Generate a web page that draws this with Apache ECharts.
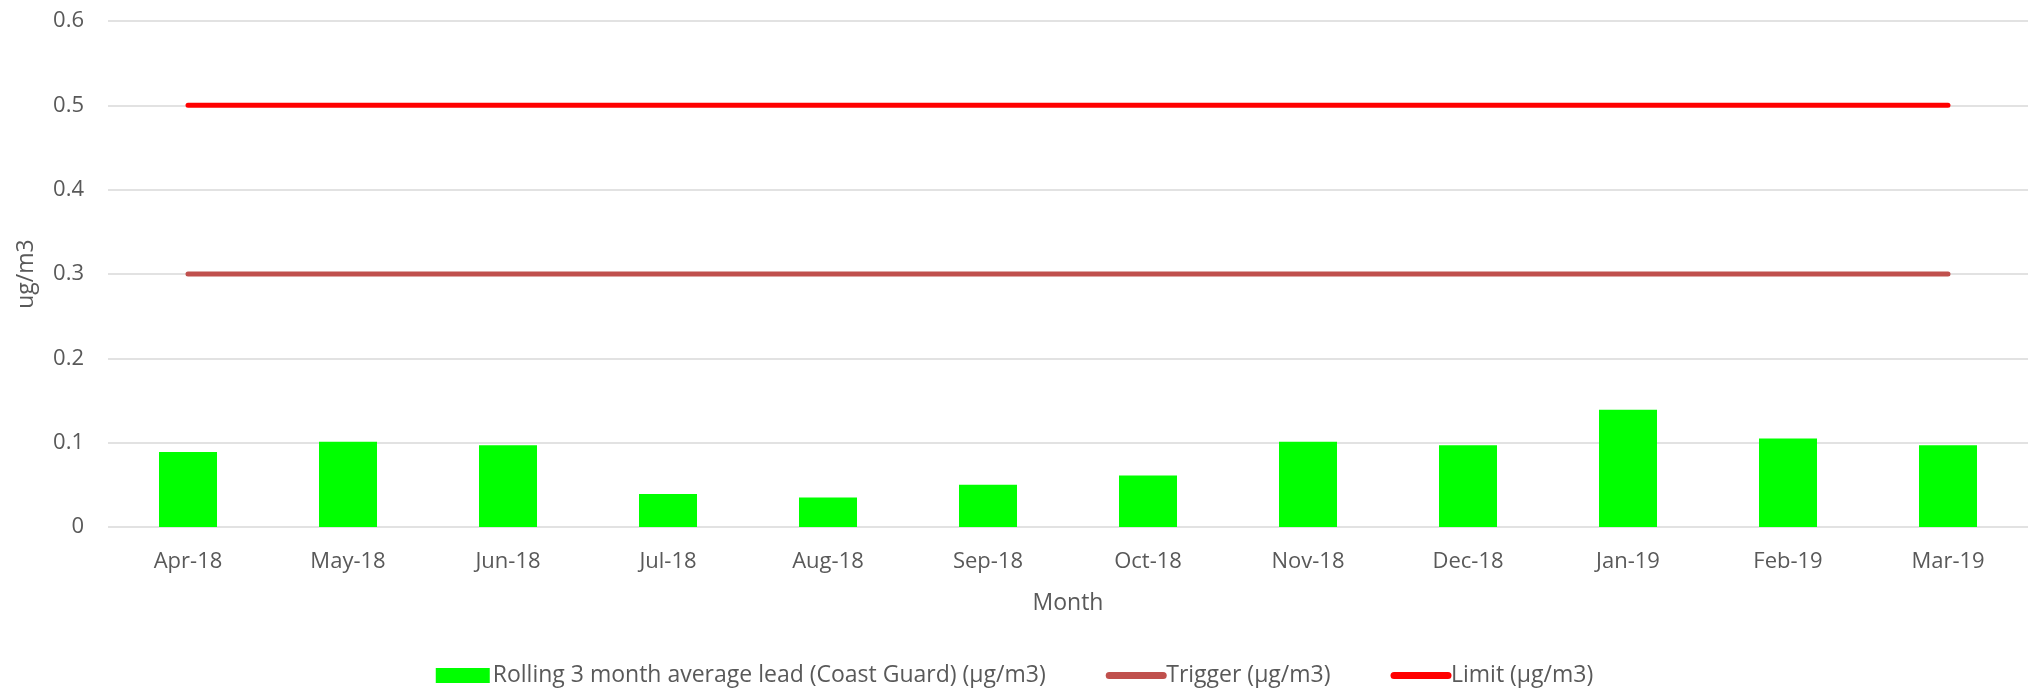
<!DOCTYPE html>
<html>
<head>
<meta charset="utf-8">
<title>Rolling 3 month average lead</title>
<script src="https://cdn.jsdelivr.net/npm/echarts@6/dist/echarts.min.js"></script>
<style>
    html, body { margin: 0; padding: 0; background: #fff; }
    #main { width: 2029px; height: 694px; }
</style>
</head>
<body>
<div id="main"></div>
<script>
// 月份
const months = ['Apr-18', 'May-18', 'Jun-18', 'Jul-18', 'Aug-18', 'Sep-18',
    'Oct-18', 'Nov-18', 'Dec-18', 'Jan-19', 'Feb-19', 'Mar-19'];
// rolling 3 month average lead (Coast Guard)
const leadValues = [0.089, 0.101, 0.097, 0.039, 0.035, 0.050,
    0.061, 0.101, 0.097, 0.139, 0.105, 0.097];
const triggerValues = [0.3, 0.3, 0.3, 0.3, 0.3, 0.3, 0.3, 0.3, 0.3, 0.3, 0.3, 0.3];
const limitValues = [0.5, 0.5, 0.5, 0.5, 0.5, 0.5, 0.5, 0.5, 0.5, 0.5, 0.5, 0.5];

const seriesNames = ['Rolling 3 month average lead (Coast Guard) (µg/m3)', 'Trigger (µg/m3)', 'Limit (µg/m3)'];

const FONT = '"Open Sans", "Noto Sans", sans-serif';
const TEXT_COLOR = '#595959';

let LeadChart = {
    init(divId) {
        this.chartDiv = document.getElementById(divId);
        this.chart = echarts.init(this.chartDiv);
        this.initChartOption();
        this.showChart();
    },
    initChartOption() {
        this.option = {
            animation: false,
            textStyle: { fontFamily: FONT, color: TEXT_COLOR },
            grid: { left: 108, right: 1, top: 21, bottom: 167 },
            legend: {
                bottom: 2,
                left: 'center',
                itemGap: 60,
                itemWidth: 54,
                itemHeight: 15,
                textStyle: { fontFamily: FONT, fontSize: 23, color: TEXT_COLOR, padding: [0, 0, 0, -2] },
                data: [
                    { name: seriesNames[0], icon: 'rect' },
                    { name: seriesNames[1], itemStyle: { opacity: 0 }, lineStyle: { width: 7, cap: 'round' } },
                    { name: seriesNames[2], itemStyle: { opacity: 0 }, lineStyle: { width: 7, cap: 'round' } }
                ]
            },
            xAxis: {
                type: 'category',
                data: months,
                name: 'Month',
                nameLocation: 'middle',
                nameGap: 65,
                nameTextStyle: { fontFamily: FONT, fontSize: 23, color: TEXT_COLOR },
                axisLine: { show: false },
                axisTick: { show: false },
                axisLabel: { fontFamily: FONT, fontSize: 22, color: TEXT_COLOR, margin: 24 }
            },
            yAxis: {
                type: 'value',
                min: 0,
                max: 0.6,
                interval: 0.1,
                name: 'ug/m3',
                nameLocation: 'middle',
                nameGap: 70,
                nameTextStyle: { fontFamily: FONT, fontSize: 23, color: TEXT_COLOR },
                axisLine: { show: false },
                axisTick: { show: false },
                axisLabel: { fontFamily: FONT, fontSize: 22, color: TEXT_COLOR, margin: 24 },
                splitLine: { lineStyle: { color: '#d9d9d9', width: 1.5 } }
            },
            series: [
                {
                    name: seriesNames[0],
                    type: 'bar',
                    barWidth: 58,
                    itemStyle: { color: '#00ff00' },
                    data: leadValues
                },
                {
                    name: seriesNames[1],
                    type: 'line',
                    symbol: 'none',
                    lineStyle: { color: '#c0504d', width: 5, cap: 'round' },
                    itemStyle: { color: '#c0504d' },
                    data: triggerValues
                },
                {
                    name: seriesNames[2],
                    type: 'line',
                    symbol: 'none',
                    lineStyle: { color: '#ff0000', width: 5, cap: 'round' },
                    itemStyle: { color: '#ff0000' },
                    data: limitValues
                }
            ]
        };
    },
    showChart() {
        this.chart.setOption(this.option, true);
    }
};

LeadChart.init('main');
</script>
</body>
</html>
